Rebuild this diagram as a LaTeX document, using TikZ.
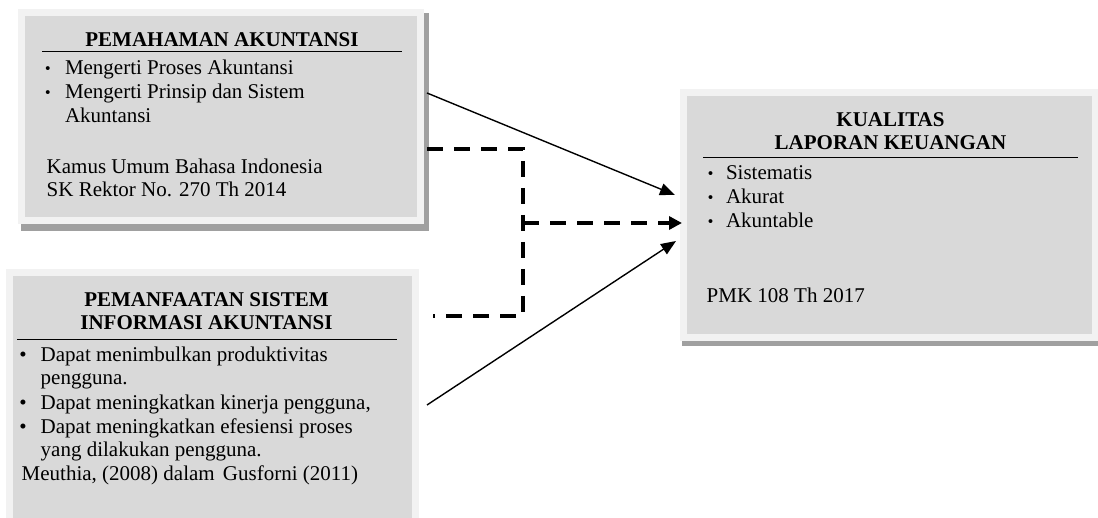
\documentclass[tikz,border=0pt]{standalone}
\usepackage{fontspec}
\setmainfont{Liberation Serif}
\usetikzlibrary{arrows.meta}
\definecolor{boxgray}{HTML}{D9D9D9}
\definecolor{framegray}{HTML}{F2F2F2}
\definecolor{shadowgray}{HTML}{A0A0A0}
\begin{document}
\begin{tikzpicture}[x=1pt,y=-1pt,
  txt/.style={inner sep=0pt, outer sep=0pt, font=\fontsize{21}{24}\selectfont, anchor=base west},
  head/.style={txt, font=\fontsize{21}{24}\selectfont\bfseries, anchor=base},
  bul/.style={txt, anchor=base},
  sq/.style={txt, anchor=base, font=\fontsize{24}{24}\selectfont\bfseries},
  box/.style={draw=framegray, fill=boxgray, line width=7pt, inner sep=0pt, outer sep=0pt, anchor=north west},
  rule/.style={line width=1.2pt},
  solidarrow/.style={line width=1.4pt, -{Triangle[length=15pt,width=12pt]}},
  dasharrow/.style={line width=4pt, dash pattern=on 16pt off 11pt},
]
\useasboundingbox (0,0) rectangle (1098,518);

% boxes
\fill[shadowgray] (21,13) rectangle (429,231);
\node[box, minimum width=399pt, minimum height=208.5pt] (b1) at (21.5,12.5) {};
\node[box, minimum width=406pt, minimum height=267.5pt] (b2) at (9.5,272.5) {};
\fill[shadowgray] (682,92) rectangle (1101,346);
\node[box, minimum width=412pt, minimum height=244.5pt] (b3) at (683,93) {};

% box 1 text
\node[head] (h1) at (222,46.7) {PEMAHAMAN AKUNTANSI};
\draw[rule] (42,51.7) -- (402,51.7);
\node[sq] (d1) at (48,76.5) {·};
\node[txt] (t1) at (65,75) {Mengerti Proses Akuntansi};
\node[sq] (d2) at (48,100.5) {·};
\node[txt] (t2) at (65,99) {Mengerti Prinsip dan Sistem};
\node[txt] (t3) at (65,122.7) {Akuntansi};
\node[txt] (t4) at (46.7,174) {Kamus Umum Bahasa Indonesia};
\node[txt] (t5) at (46.7,196.7) {SK Rektor No. 270 Th 2014};

% box 2 text
\node[head] (h2) at (206.5,306.7) {PEMANFAATAN SISTEM};
\node[head] (h3) at (206.5,330) {INFORMASI AKUNTANSI};
\draw[rule] (17,339.3) -- (397,339.3);
\node[bul] (e1) at (23,361.7) {•};
\node[txt] (u1) at (40.7,361.7) {Dapat menimbulkan produktivitas};
\node[txt] (u2) at (40.7,385) {pengguna.};
\node[bul] (e2) at (23,410) {•};
\node[txt] (u3) at (40.7,410) {Dapat meningkatkan kinerja pengguna,};
\node[bul] (e3) at (23,434) {•};
\node[txt] (u4) at (40.7,434) {Dapat meningkatkan efesiensi proses};
\node[txt] (u5) at (40.7,456.7) {yang dilakukan pengguna.};
\node[txt] (u6) at (21.7,480) {Meuthia, (2008) dalam\hspace{3pt} Gusforni (2011)};

% box 3 text
\node[head] (h4) at (890.5,126.7) {KUALITAS};
\node[head] (h5) at (890.5,150) {LAPORAN KEUANGAN};
\draw[rule] (703,157.7) -- (1078,157.7);
\node[sq] (f1) at (710.7,181.5) {·};
\node[txt] (v1) at (726,180) {Sistematis};
\node[sq] (f2) at (710.7,205.5) {·};
\node[txt] (v2) at (726,204) {Akurat};
\node[sq] (f3) at (710.7,229.5) {·};
\node[txt] (v3) at (726,228) {Akuntable};
\node[txt] (v4) at (706.7,302.7) {PMK 108 Th 2017};

% connectors
\draw[solidarrow] ([shift={(6.5,80.5)}]b1.north east) -- ([shift={(-8,102)}]b3.north west);
\draw[solidarrow] ([shift={(11.5,132.5)}]b2.north east) -- ([shift={(-7,148)}]b3.north west);
\coordinate (j) at (523,223);
\draw[dasharrow] ([shift={(6.5,136.5)}]b1.north east) -| (j) |- ([shift={(17.5,43.5)}]b2.north east);
\draw[dasharrow, -{Triangle[length=13pt,width=13pt]}] (j) -- ([shift={(-1,130)}]b3.north west);
\end{tikzpicture}
\end{document}
